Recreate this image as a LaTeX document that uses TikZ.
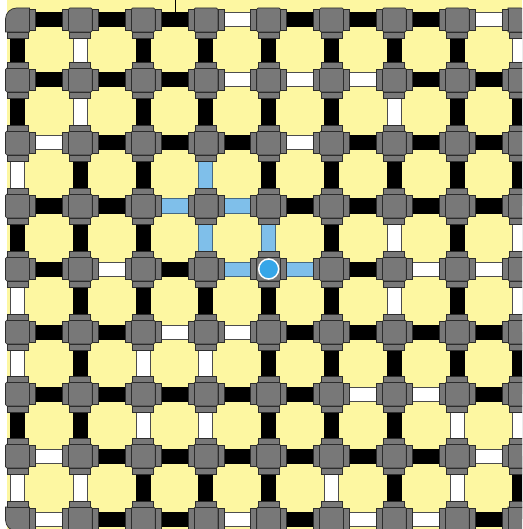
\documentclass[tikz,border=0pt]{standalone}
\definecolor{bgyellow}{RGB}{253,247,161}
\definecolor{bodygrey}{RGB}{120,120,120}
\definecolor{edgegrey}{RGB}{45,45,45}
\definecolor{waterblue}{RGB}{127,191,234}
\definecolor{wateredge}{RGB}{70,105,130}
\definecolor{srcblue}{RGB}{54,166,232}
\tikzset{
  pipeB/.style={draw=black, line width=15pt},
  pipeW/.style={draw=edgegrey!85, line width=1pt, double=white, double distance=13pt},
  pipeL/.style={draw=wateredge, line width=1pt, double=waterblue, double distance=13pt},
  fitting/.style={fill=bodygrey, draw=edgegrey, line width=0.7pt},
  source/.style={circle, fill=srcblue, draw=white, line width=1.5pt, minimum size=20pt, inner sep=0pt},
}
\begin{document}
\begin{tikzpicture}[x=1pt,y=-1pt]
\useasboundingbox (0,0) rectangle (522,529);
\clip (0,0) rectangle (522,529);
\fill[white] (0,0) rectangle (522,529);
\fill[bgyellow] (7,0) rectangle (522,529);
% junction coordinates
\foreach \yy [count=\r from 0] in {20,80,143,206,269,332,394,456,519} {
  \foreach \c in {0,...,8} {
    \pgfmathsetmacro\xx{17.5+62.8*\c}
    \coordinate (j-\r-\c) at (\xx,\yy);
  }
}
% horizontal pipes
\foreach \row [count=\r from 0] in {
  {B,B,B,W,B,B,B,W},
  {B,B,B,W,W,W,B,B},
  {W,B,B,B,W,B,B,B},
  {B,B,L,L,B,B,B,B},
  {B,W,B,L,L,B,W,W},
  {B,B,W,W,B,B,B,B},
  {B,B,B,B,B,W,W,B},
  {W,B,B,B,B,B,B,W},
  {W,B,B,W,B,W,W,B}} {
  \foreach \s [count=\c from 0] in \row {
    \pgfmathtruncatemacro\cn{\c+1}
    \draw[pipe\s] (j-\r-\c) -- (j-\r-\cn);
  }
}
% vertical pipes
\foreach \row [count=\r from 0] in {
  {B,W,B,B,B,B,B,B,W},
  {B,W,B,B,B,B,W,B,B},
  {W,B,B,L,B,B,B,B,B},
  {B,B,B,L,L,B,W,B,W},
  {W,B,B,B,B,B,W,B,W},
  {W,B,W,W,B,B,B,B,B},
  {B,B,W,W,B,B,B,W,W},
  {W,W,B,B,B,W,B,W,B}} {
  \pgfmathtruncatemacro\rn{\r+1}
  \foreach \s [count=\c from 0] in \row {
    \draw[pipe\s] (j-\r-\c) -- (j-\rn-\c);
  }
}
% fittings
\foreach \yy [count=\r from 0] in {20,80,143,206,269,332,394,456,519} {
  \foreach \c in {0,...,8} {
    \pgfmathsetmacro\xx{17.5+62.8*\c}
    \pgfmathtruncatemacro\corner{((\r==0)||(\r==8))&&((\c==0)||(\c==8))}
    \ifnum\corner=1
      \pgfmathtruncatemacro\sx{\c==0 ? -1 : 1}
      \pgfmathtruncatemacro\sy{\r==0 ? -1 : 1}
      \draw[fitting] ({\xx-(\sx)*12},{\yy-(\sy)*12}) -- ({\xx+(\sx)*12},{\yy-(\sy)*12})
        -- ({\xx+(\sx)*12},{\yy+(\sy)*1})
        .. controls ({\xx+(\sx)*12},{\yy+(\sy)*7}) and ({\xx+(\sx)*7},{\yy+(\sy)*12}) ..
        ({\xx+(\sx)*1},{\yy+(\sy)*12}) -- ({\xx-(\sx)*12},{\yy+(\sy)*12}) -- cycle;
    \else
      \draw[fitting, rounded corners=1.5pt] ({\xx-12},{\yy-12}) rectangle ({\xx+12},{\yy+12});
    \fi
    \ifnum\c>0 \draw[fitting] ({\xx-18},{\yy-10.5}) rectangle ({\xx-12},{\yy+10.5}); \fi
    \ifnum\c<8 \draw[fitting] ({\xx+12},{\yy-10.5}) rectangle ({\xx+18},{\yy+10.5}); \fi
    \ifnum\r>0 \draw[fitting] ({\xx-10.5},{\yy-18}) rectangle ({\xx+10.5},{\yy-12}); \fi
    \ifnum\r<8 \draw[fitting] ({\xx-10.5},{\yy+12}) rectangle ({\xx+10.5},{\yy+18}); \fi
  }
}
% water source
\node[source] (src) at (j-4-4) {};
% inlet marker
\coordinate (tap) at (175,0);
\coordinate (tapend) at (175,12.5);
\draw[line width=0.8pt] (tap) -- (tapend);
\end{tikzpicture}
\end{document}
